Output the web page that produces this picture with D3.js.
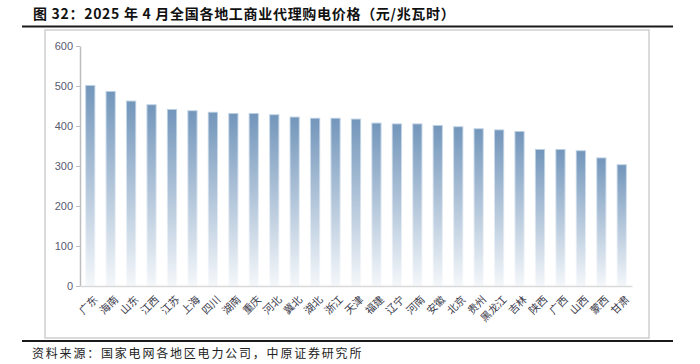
<!DOCTYPE html>
<html><head><meta charset="utf-8">
<script src="https://cdn.jsdelivr.net/npm/d3@7"></script>
<style>
body{margin:0;background:#fff;}
svg{display:block;font-family:"Noto Sans CJK SC","Noto Sans",sans-serif;}
</style></head><body>
<svg id="c" width="700" height="364"></svg>
<script>
const categories = ["广东","海南","山东","江西","江苏","上海","四川","湖南","重庆","河北","冀北","湖北","浙江","天津","福建","辽宁","河南","安徽","北京","贵州","黑龙江","吉林","陕西","广西","山西","蒙西","甘肃"];
const prices = [500,485,461,452,440,437,433,430,430,427,421,418,418,416,406,404,404,400,397,392,389,385,340,340,337,319,302];
const yTicks = [0,100,200,300,400,500,600];
const titleText = "图 32：2025 年 4 月全国各地工商业代理购电价格（元/兆瓦时）";
const sourceText = "资料来源：国家电网各地区电力公司，中原证券研究所";

const svg = d3.select("#c");
const defs = svg.append("defs");
const grad = defs.append("linearGradient").attr("id","bg").attr("x1",0).attr("y1",0).attr("x2",0).attr("y2",1);
grad.append("stop").attr("offset","0%").attr("stop-color","#7396bb");
grad.append("stop").attr("offset","100%").attr("stop-color","#f4f7fa");
const grad2 = defs.append("linearGradient").attr("id","bg2").attr("x1",0).attr("y1",0).attr("x2",0).attr("y2",1);
grad2.append("stop").attr("offset","0%").attr("stop-color","#bccfe2");
grad2.append("stop").attr("offset","100%").attr("stop-color","#fafbfd");

// title
svg.append("text").attr("x",33).attr("y",19).attr("font-size",14).attr("font-weight","bold")
  .attr("letter-spacing","0.7").attr("fill","#111").text(titleText);
// black rules
svg.append("line").attr("x1",22).attr("x2",673).attr("y1",26.5).attr("y2",26.5).attr("stroke","#1a1a1a").attr("stroke-width",2);
svg.append("line").attr("x1",22).attr("x2",673).attr("y1",341).attr("y2",341).attr("stroke","#1a1a1a").attr("stroke-width",2);
// frame
svg.append("rect").attr("x",45).attr("y",30).attr("width",604).attr("height",308)
  .attr("fill","none").attr("stroke","#cfcfcf").attr("stroke-width",1.5);
// source
svg.append("text").attr("x",32).attr("y",358).attr("font-size",12).attr("fill","#222")
  .attr("letter-spacing","1.8").text(sourceText);

const x = d3.scaleBand().domain(categories).range([80,632]).paddingInner(0.6).paddingOuter(0.3);
const y = d3.scaleLinear().domain([0,600]).range([286,46]);

// bars
const bars = svg.append("g");
bars.selectAll("rect.glow").data(categories).join("rect")
  .attr("x",d=>x(d)-1).attr("width",x.bandwidth()+2)
  .attr("y",(d,i)=>y(prices[i])-1).attr("height",(d,i)=>y(0)-y(prices[i])+1)
  .attr("fill","url(#bg2)");
bars.selectAll("rect.bar").data(categories).join("rect")
  .attr("x",d=>x(d)).attr("width",x.bandwidth())
  .attr("y",(d,i)=>y(prices[i])).attr("height",(d,i)=>y(0)-y(prices[i]))
  .attr("fill","url(#bg)");

// y axis
const ya = svg.append("g").attr("transform","translate(80,0)")
  .call(d3.axisLeft(y).tickValues(yTicks).tickSize(4).tickPadding(3).tickSizeOuter(0));
ya.select(".domain").attr("stroke","#bdbdbd").attr("stroke-width",1.5);
ya.selectAll(".tick line").attr("stroke","#bdbdbd");
ya.selectAll("text").attr("font-family","Liberation Sans, Arial, sans-serif").attr("font-size",11).attr("fill","#5a5a70");

// x axis
const xa = svg.append("g").attr("transform","translate(0,286)")
  .call(d3.axisBottom(x).tickSize(0).tickSizeOuter(0).tickFormat(""));
xa.select(".domain").attr("stroke","#d9d9d9").attr("stroke-width",1.5);
svg.append("g").selectAll("text").data(categories).join("text")
  .attr("transform",d=>`translate(${x(d)+x.bandwidth()/2+3},${295}) rotate(-45)`)
  .attr("text-anchor","end").attr("dy","0.7em").attr("font-size",10.5).attr("fill","#3a3a4a")
  .text(d=>d);
</script>
</body></html>
